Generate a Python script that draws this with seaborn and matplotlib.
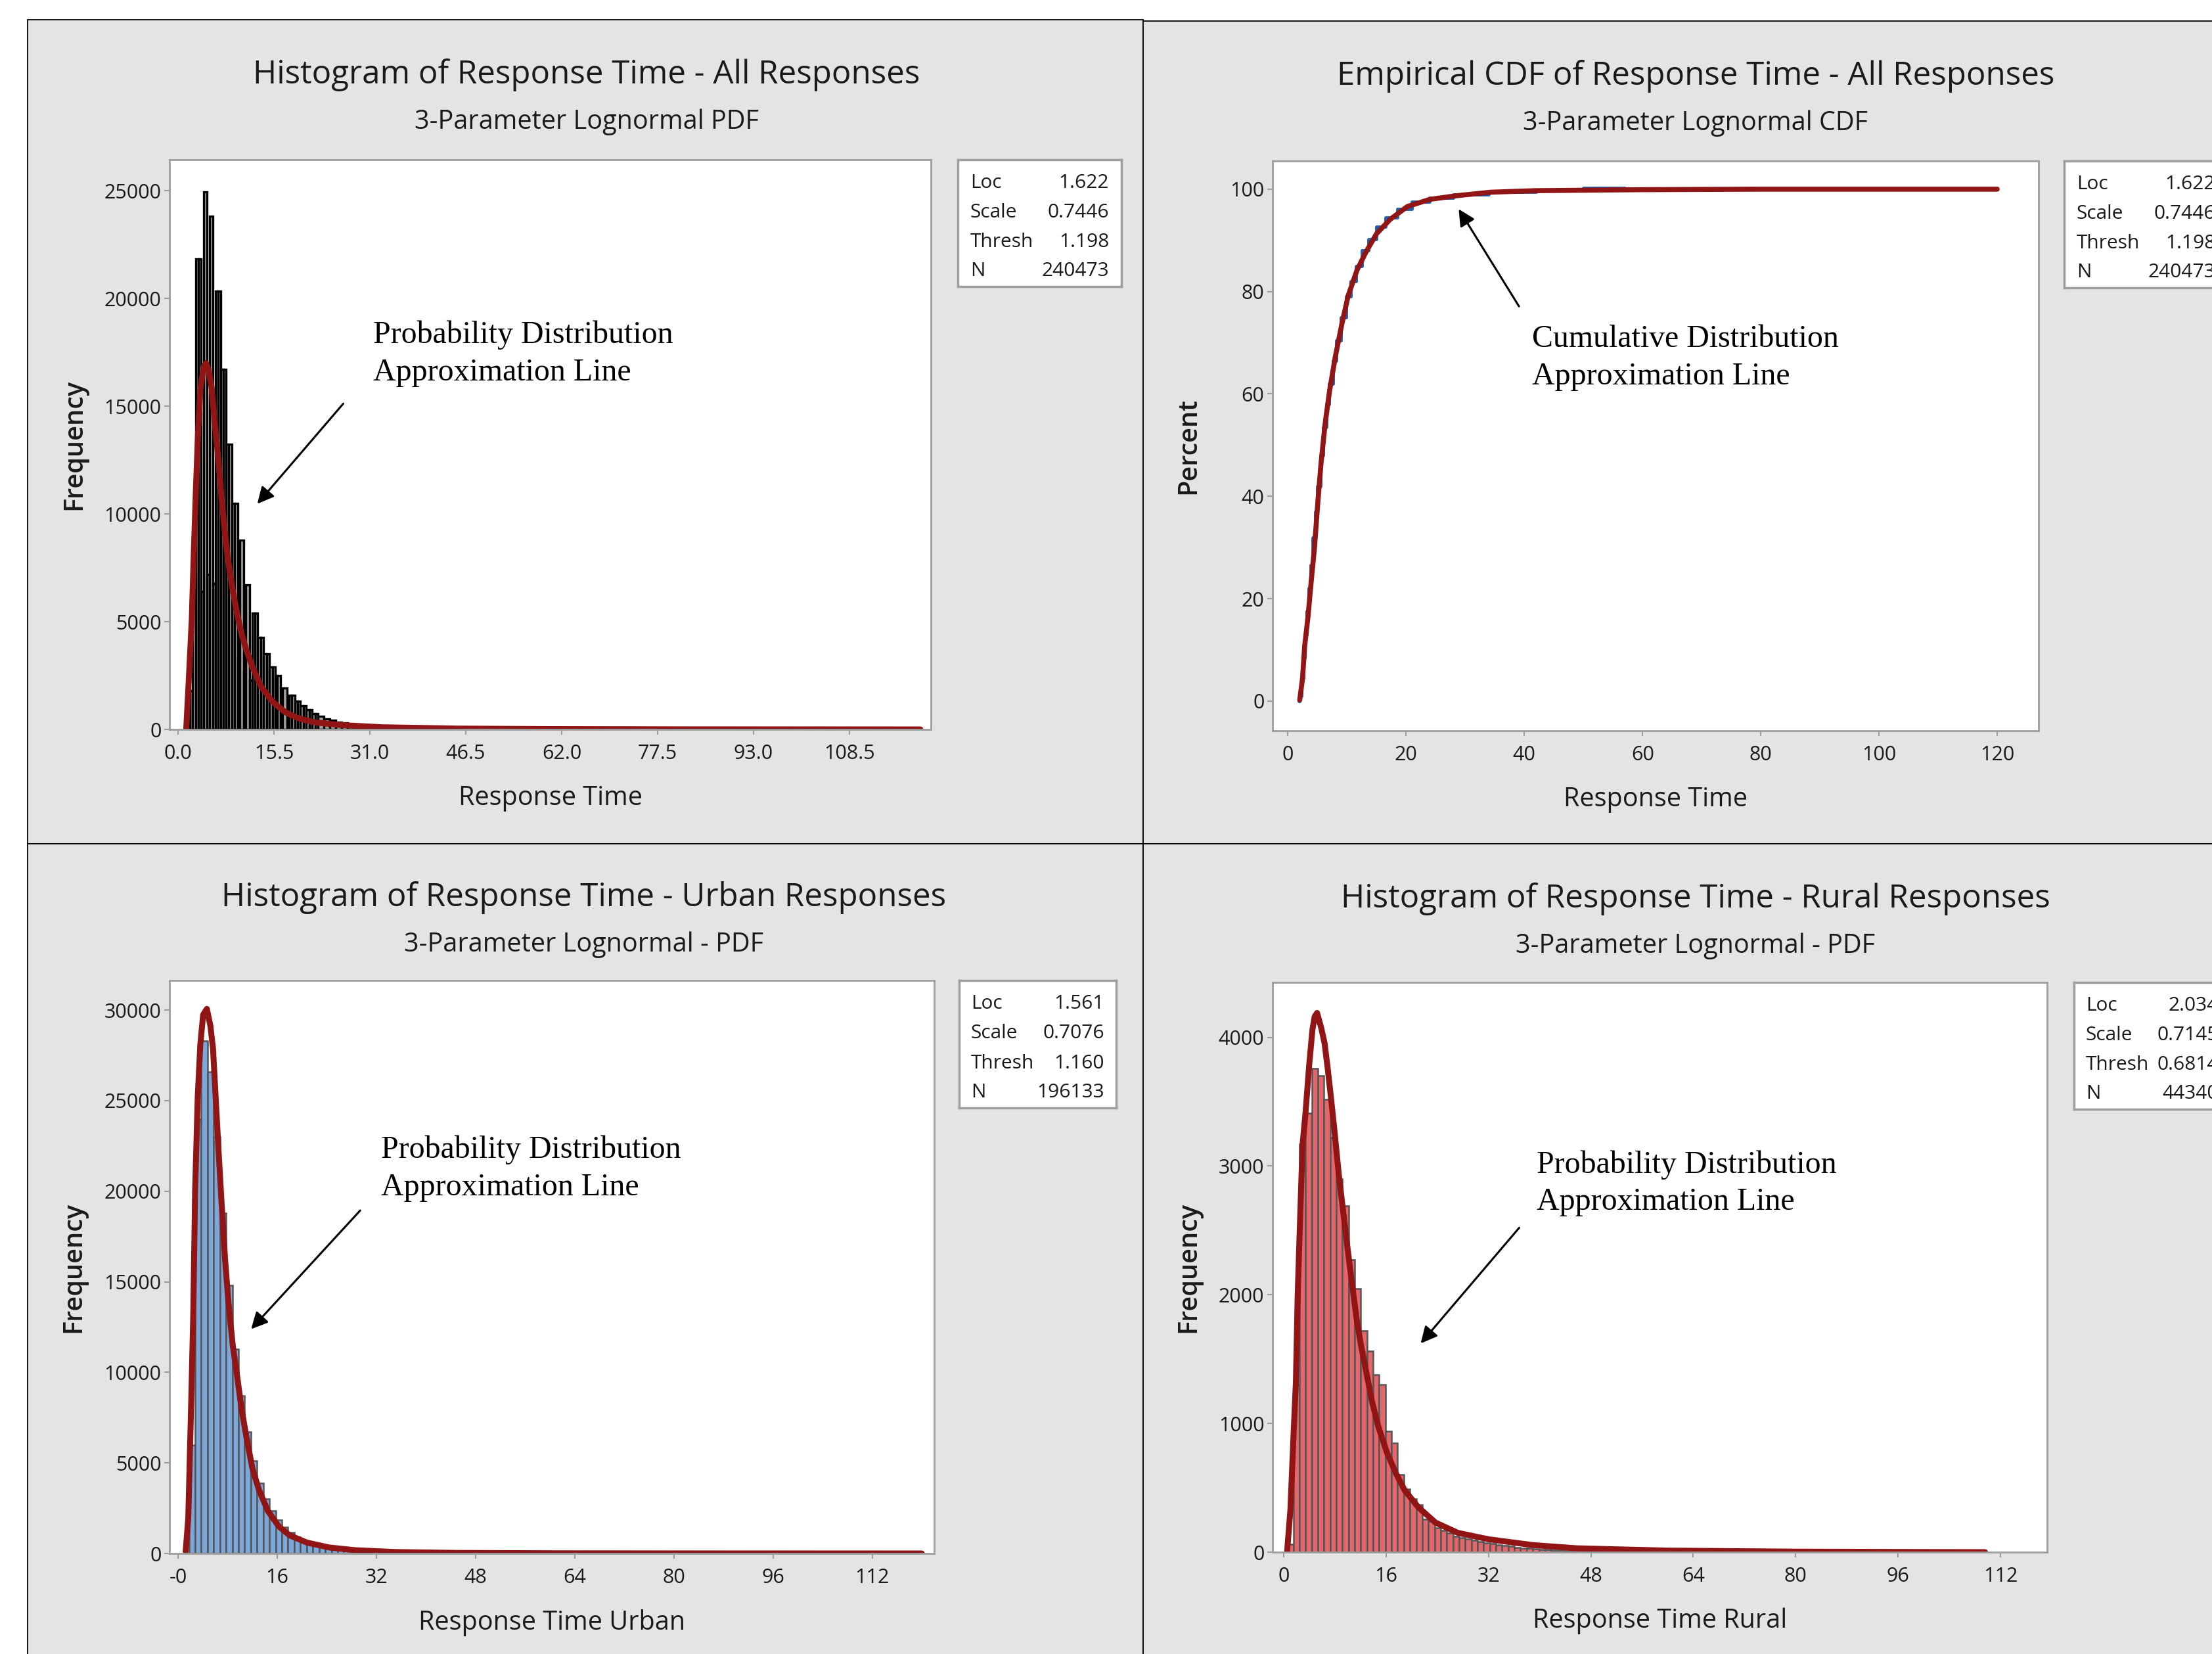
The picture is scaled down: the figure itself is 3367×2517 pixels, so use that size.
import numpy as np
import matplotlib
matplotlib.use("Agg")
import matplotlib.pyplot as plt
from matplotlib.patches import Rectangle
import seaborn as sns

# ---------------- data ----------------
# top-left: all responses, histogram (bin edges + counts) and fitted pdf
all_edges = [1.84, 2.32, 2.80, 3.25, 3.69, 4.08, 4.65, 5.04, 5.60, 6.00, 6.44,
             6.88, 7.29, 7.70, 8.18, 8.66, 9.14, 9.61, 10.00, 10.60, 10.96,
             11.56, 11.95, 12.40, 12.84, 13.32, 13.80, 14.28, 14.76, 15.23,
             15.70, 16.07, 16.57, 16.92, 17.56, 17.90, 18.37, 18.84, 19.30,
             19.76, 20.23, 20.70, 21.18, 21.67, 22.13, 22.60, 23.56, 24.52,
             25.48, 26.44, 27.40, 28.36, 29.32, 30.28, 31.24, 32.20, 33.16,
             34.12, 35.08, 40.0, 45.0, 50.0, 60.0, 70.0, 80.0, 90.0, 100.0,
             110.0, 119.5]
all_counts = [1800, 5900, 21850, 21850, 6400, 24960, 7190, 23830, 6780, 20330,
              20330, 16700, 16700, 13250, 13250, 10490, 10490, 3290, 8790, 2675,
              6700, 2290, 5400, 5400, 4280, 4280, 3500, 3500, 2900, 2900, 1000,
              2500, 960, 1920, 580, 1590, 1590, 1310, 1310, 1100, 1100, 930, 930,
              720, 720, 600, 500, 420, 350, 290, 240, 200, 170, 140, 120, 100,
              85, 70, 50, 30, 20, 12, 8, 5, 3, 2, 1, 1]
all_fit_x = [1.3, 1.7, 2.2, 2.55, 2.9, 3.25, 3.6, 4.1, 4.5, 4.9, 5.4, 5.9, 6.5,
             7.0, 7.5, 8.0, 8.8, 9.5, 10.2, 10.9, 12.0, 13.4, 15.2, 17.3, 19.4,
             22.2, 26.5, 33, 45, 60, 80, 100, 120]
all_fit_y = [0, 2200, 5100, 8400, 11400, 14000, 15800, 16800, 17000, 16700,
             15900, 14300, 12500, 10800, 9300, 8000, 6500, 5400, 4500, 3800,
             2900, 2000, 1300, 800, 520, 320, 200, 100, 40, 15, 5, 2, 0]

# top-right: empirical cdf (blue steps) and fitted cdf (red), percent
ecdf_x = [1.9, 2.0, 2.3, 2.6, 2.9, 3.2, 3.5, 3.8, 4.2, 4.6, 5.0, 5.5, 6.0,
          6.5, 7.0, 7.6, 8.2, 9.0, 9.8, 10.6, 11.5, 12.5, 13.6, 15.0, 16.5,
          18.5, 21.0, 24.0, 28.0, 34.0, 42.0, 50.0, 57.0, 120.0]
ecdf_pct = [0.0, 1.0, 4.5, 8.5, 13.0, 17.5, 22.0, 26.5, 32.0, 37.0, 42.0, 48.0,
            53.5, 58.0, 62.0, 66.5, 70.5, 75.0, 79.0, 82.0, 85.0, 88.0, 90.2,
            92.6, 94.5, 96.1, 97.5, 98.3, 99.0, 99.5, 99.8, 100.2, 100.0, 100.0]
cdf_x = [2.0, 2.47, 2.84, 3.4, 3.96, 4.5, 5.0, 5.6, 6.3, 7.05, 7.98, 9.1, 10.2,
         11.7, 13.2, 15.0, 17.3, 20.2, 24.0, 28.4, 34.3, 41.7, 60, 80, 100, 120]
cdf_pct = [0.2, 4.4, 10.8, 16.5, 23.6, 30.0, 37.9, 46.4, 54.2, 60.6, 67.0,
           73.5, 79.2, 84.2, 87.7, 91.3, 94.1, 96.6, 98.0, 98.7, 99.4, 99.7,
           99.9, 100, 100, 100]

# bottom-left: urban responses, 1-minute bins
urban_start = 1.76
urban_counts = [6000, 24000, 28300, 26600, 23000, 18800, 14800, 11300, 8700,
                6700, 5100, 3900, 3000, 2350, 1850, 1450, 1150, 920, 740, 600,
                490, 400, 330, 275, 230, 190, 160, 135, 115, 97, 83, 71, 61, 53,
                45, 38, 32, 27, 23, 19, 16, 14, 12, 10, 9, 8, 7, 6, 5, 5, 4, 4,
                3, 3, 3, 2, 2, 2, 2, 1, 1, 1, 1]
urban_fit_x = [1.24, 1.66, 2.12, 2.47, 2.76, 3.18, 3.6, 4.06, 4.66, 5.23, 5.65,
               6.08, 6.54, 7.07, 7.6, 8.13, 8.83, 9.54, 10.25, 10.95, 12.0,
               13.07, 14.5, 16.25, 18.0, 20.8, 24.4, 28.6, 35, 45, 60, 80, 100,
               120]
urban_fit_y = [100, 1980, 8200, 13300, 20000, 25180, 28090, 29750, 30070, 29130,
               27880, 25180, 22260, 19140, 16230, 13900, 11500, 9800, 8000,
               6600, 4700, 3500, 2350, 1500, 1000, 600, 330, 180, 80, 30, 10, 3,
               1, 0]

# bottom-right: rural responses
rural_start = 0.52
rural_width = 0.96
rural_counts = [60, 1300, 3170, 3410, 3760, 3700, 3520, 3220, 2900, 2690, 2270,
                2050, 1720, 1560, 1380, 1300, 940, 850, 605, 490, 415, 370, 255,
                240, 187, 167, 150, 123, 114, 100, 90, 80, 72, 65, 58, 50, 44,
                38, 33, 29, 25, 22, 19, 16, 14, 12, 10, 8, 7, 6, 5, 4, 3, 3, 2,
                2, 2, 1, 1]
rural_fit_x = [0.52, 1.03, 1.55, 1.89, 2.17, 2.58, 2.93, 3.37, 3.96, 4.47, 4.82,
               5.2, 5.85, 6.37, 6.88, 7.4, 7.9, 8.6, 9.3, 10.0, 10.67, 11.36,
               12.04, 12.73, 13.76, 14.8, 16.17, 17.55, 18.9, 21.0, 23.7, 27.2,
               32.0, 38.9, 45.8, 60, 80, 100, 109.6]
rural_fit_y = [6, 328, 942, 1323, 2000, 2640, 3166, 3400, 3780, 4058, 4161, 4190,
               4073, 3956, 3751, 3517, 3283, 2932, 2639, 2347, 2083, 1820, 1615,
               1440, 1176, 971, 767, 610, 480, 350, 230, 150, 100, 55, 30, 12, 4,
               1, 0]

stat_names = ["Loc", "Scale", "Thresh", "N"]
stats_all = ["1.622", "0.7446", "1.198", "240473"]
stats_urban = ["1.561", "0.7076", "1.160", "196133"]
stats_rural = ["2.034", "0.7145", "0.6814", "44340"]

# ---------------- style ----------------
W, H = 3367, 2517
PANEL = "#e4e4e4"
FRAME = "#9e9e9e"
RED = "#921515"
TXT = "#1a1a1a"

sns.set_theme(style="white")
plt.rcParams['font.family'] = ['Open Sans', 'DejaVu Sans']

fig = plt.figure(figsize=(W / 100, H / 100), dpi=100)
fig.patch.set_facecolor("white")


def rect(x0, y0, x1, y1):
    # pixel box (from top-left) -> figure fraction [l, b, w, h]
    return [x0 / W, 1 - y1 / H, (x1 - x0) / W, (y1 - y0) / H]


def panel(x0, y0, x1, y1):
    l, b, w, h = rect(x0, y0, x1, y1)
    fig.patches.append(Rectangle((l, b), w, h, transform=fig.transFigure,
                                 facecolor=PANEL, edgecolor="black", lw=1.3,
                                 zorder=-5))


def style_axes(ax):
    ax.set_facecolor("white")
    for s in ax.spines.values():
        s.set_color(FRAME)
        s.set_linewidth(2)
        s.set_visible(True)
    ax.tick_params(axis="both", which="both", direction="out", length=6,
                   width=1.5, color=FRAME, labelsize=22, labelcolor=TXT,
                   left=True, bottom=True, top=False, right=False)
    ax.tick_params(axis="x", pad=10)
    ax.tick_params(axis="y", pad=3)


def labels(ax, xlab, ylab, ylab_x):
    ax.set_xlabel(xlab, fontsize=28.5, color=TXT)
    ax.set_ylabel(ylab, fontsize=28.5, color=TXT, fontweight="semibold")
    ax.xaxis.set_label_coords(0.5, -0.097)
    ax.yaxis.set_label_coords(ylab_x, 0.5)


def titles(cx, ty, main, sub):
    fig.text(cx / W, 1 - ty / H, main, ha="center", va="center",
             fontsize=35.5, color=TXT, fontweight="medium")
    fig.text(cx / W, 1 - (ty + 72) / H, sub, ha="center", va="center",
             fontsize=28.5, color=TXT)


def stat_box(box, values, val_frac):
    bx = fig.add_axes(rect(*box))
    bx.set_xticks([])
    bx.set_yticks([])
    bx.set_facecolor("white")
    for s in bx.spines.values():
        s.set_color(FRAME)
        s.set_linewidth(2.5)
    rows = [0.185, 0.415, 0.65, 0.88]
    for name, val, r in zip(stat_names, values, rows):
        bx.text(0.075, 1 - r, name, transform=bx.transAxes, ha="left",
                va="center", fontsize=21.5, color=TXT)
        bx.text(val_frac, 1 - r, val, transform=bx.transAxes, ha="right",
                va="center", fontsize=21.5, color=TXT)


def note(ax, text, text_xy, tail, tip):
    ax.text(text_xy[0], text_xy[1], text, ha="left", va="center",
            fontsize=34.5, family="Liberation Serif", color="black",
            linespacing=1.38)
    ax.annotate("", xy=tip, xytext=tail,
                arrowprops=dict(arrowstyle="-|>", color="black", lw=2.2,
                                mutation_scale=38, shrinkA=0, shrinkB=0))


# panels
panel(42, 30, 1740, 1284)
panel(1740, 32, 3400, 1284)
panel(42, 1284, 1740, 2560)
panel(1740, 1284, 3400, 2560)

# ---------- top-left: histogram all responses ----------
ax = fig.add_axes(rect(258, 243, 1417, 1110))
style_axes(ax)
mids = [(a + b) / 2 for a, b in zip(all_edges[:-1], all_edges[1:])]
sns.histplot(x=mids, weights=all_counts, bins=all_edges, ax=ax,
             color="#a0a0a0", edgecolor="black", linewidth=2.4, alpha=1)
sns.lineplot(x=all_fit_x, y=all_fit_y, ax=ax, color=RED, lw=6.5, sort=False,
             estimator=None)
ax.set_xlim(-1.4, 121.7)
ax.set_ylim(0, 26440)
ax.set_xticks([0, 15.5, 31, 46.5, 62, 77.5, 93, 108.5])
ax.set_xticklabels(["0.0", "15.5", "31.0", "46.5", "62.0", "77.5", "93.0",
                    "108.5"])
ax.set_yticks([0, 5000, 10000, 15000, 20000, 25000])
labels(ax, "Response Time", "Frequency", -0.108)
note(ax, "Probability Distribution\nApproximation Line", (31.5, 17440),
     (26.7, 15120), (12.8, 10470))
titles(893, 114, "Histogram of Response Time - All Responses",
       "3-Parameter Lognormal PDF")
stat_box((1458, 243, 1707, 436), stats_all, 0.925)

# ---------- top-right: empirical cdf ----------
ax = fig.add_axes(rect(1937, 245, 3103, 1112))
style_axes(ax)
sns.lineplot(x=ecdf_x, y=ecdf_pct, ax=ax, color="#1f5fae", lw=3.5,
             drawstyle="steps-post", sort=False, estimator=None)
sns.lineplot(x=cdf_x, y=cdf_pct, ax=ax, color=RED, lw=5.5, sort=False,
             estimator=None)
ax.set_xlim(-2.6, 127)
ax.set_ylim(-5.8, 105.5)
ax.set_xticks([0, 20, 40, 60, 80, 100, 120])
ax.set_yticks([0, 20, 40, 60, 80, 100])
labels(ax, "Response Time", "Percent", -0.092)
note(ax, "Cumulative Distribution\nApproximation Line", (41.3, 67.1),
     (39.1, 77.1), (28.9, 96.1))
titles(2581, 116, "Empirical CDF of Response Time - All Responses",
       "3-Parameter Lognormal CDF")
stat_box((3142, 245, 3391, 438), stats_all, 0.925)

# ---------- bottom-left: urban ----------
ax = fig.add_axes(rect(258, 1492, 1422, 2364))
style_axes(ax)
u_edges = [urban_start + i for i in range(len(urban_counts) + 1)]
u_mids = [e + 0.5 for e in u_edges[:-1]]
sns.histplot(x=u_mids, weights=urban_counts, bins=u_edges, ax=ax,
             color="#7ba7da", edgecolor="#555555", linewidth=1.8, alpha=1)
sns.lineplot(x=urban_fit_x, y=urban_fit_y, ax=ax, color=RED, lw=6.5,
             sort=False, estimator=None)
ax.set_xlim(-1.37, 122)
ax.set_ylim(0, 31640)
ax.set_xticks([0, 16, 32, 48, 64, 80, 96, 112])
ax.set_xticklabels(["-0", "16", "32", "48", "64", "80", "96", "112"])
ax.set_yticks([0, 5000, 10000, 15000, 20000, 25000, 30000])
labels(ax, "Response Time Urban", "Frequency", -0.108)
note(ax, "Probability Distribution\nApproximation Line", (32.8, 21240),
     (29.4, 18940), (11.8, 12390))
titles(889, 1366, "Histogram of Response Time - Urban Responses",
       "3-Parameter Lognormal - PDF")
stat_box((1460, 1492, 1699, 1686), stats_urban, 0.925)

# ---------- bottom-right: rural ----------
ax = fig.add_axes(rect(1937, 1495, 3116, 2362))
style_axes(ax)
r_edges = [rural_start + i * rural_width for i in range(len(rural_counts) + 1)]
r_mids = [e + rural_width / 2 for e in r_edges[:-1]]
sns.histplot(x=r_mids, weights=rural_counts, bins=r_edges, ax=ax,
             color="#e4686b", edgecolor="#555555", linewidth=1.8, alpha=1)
sns.lineplot(x=rural_fit_x, y=rural_fit_y, ax=ax, color=RED, lw=6.5,
             sort=False, estimator=None)
ax.set_xlim(-1.76, 119.3)
ax.set_ylim(0, 4427)
ax.set_xticks([0, 16, 32, 48, 64, 80, 96, 112])
ax.set_yticks([0, 1000, 2000, 3000, 4000])
labels(ax, "Response Time Rural", "Frequency", -0.091)
note(ax, "Probability Distribution\nApproximation Line", (39.5, 2866),
     (36.8, 2521), (21.4, 1622))
titles(2581, 1368, "Histogram of Response Time - Rural Responses",
       "3-Parameter Lognormal - PDF")
stat_box((3157, 1495, 3395, 1688), stats_rural, 0.925)

fig.savefig("out.png", dpi=100, facecolor="white")
